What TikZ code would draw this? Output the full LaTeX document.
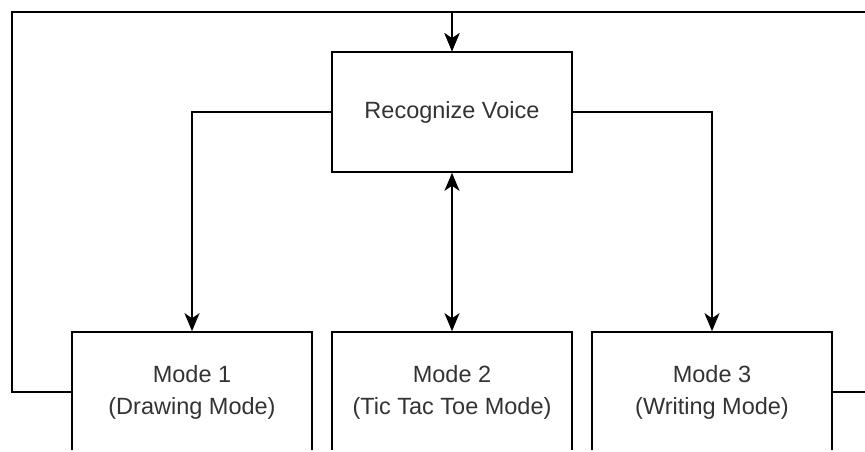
\documentclass[tikz,border=0pt]{standalone}
\usepackage{fontspec}
\setmainfont{Liberation Sans}
\usetikzlibrary{arrows.meta}
\begin{document}
\begin{tikzpicture}[x=1pt,y=-1pt,
  box/.style={draw, line width=1.6pt, minimum width=240pt, minimum height=120pt,
    inner sep=0pt, align=center, font=\fontsize{23.5}{32}\selectfont, text=black!80},
  wire/.style={line width=1.6pt},
  arr/.style={wire, -{Stealth[length=18pt,width=15pt,inset=5pt]}},
  barr/.style={wire, {Stealth[length=18pt,width=15pt,inset=5pt]}-{Stealth[length=18pt,width=15pt,inset=5pt]}}]
\useasboundingbox (0,0) rectangle (865,451);
\clip (0,0) rectangle (865,449);
\node[box] (recog) at (452,112) {Recognize Voice};
\node[box] (mode1) at (192,392) {Mode 1\\(Drawing Mode)};
\node[box] (mode2) at (452,392) {Mode 2\\(Tic Tac Toe Mode)};
\node[box] (mode3) at (712,392) {Mode 3\\(Writing Mode)};
\coordinate (tl) at (12,12);
\coordinate (bl) at (12,392);
\coordinate (tr) at (900,12);
\coordinate (br) at (900,392);
\draw[arr] (mode1.west) -- (bl) -- (tl) -| (recog.north);
\draw[arr] (mode3.east) -- (br) -- (tr) -| (recog.north);
\draw[arr] (recog.west) -| (mode1.north);
\draw[arr] (recog.east) -| (mode3.north);
\draw[barr] (recog.south) -- (mode2.north);
\end{tikzpicture}
\end{document}
